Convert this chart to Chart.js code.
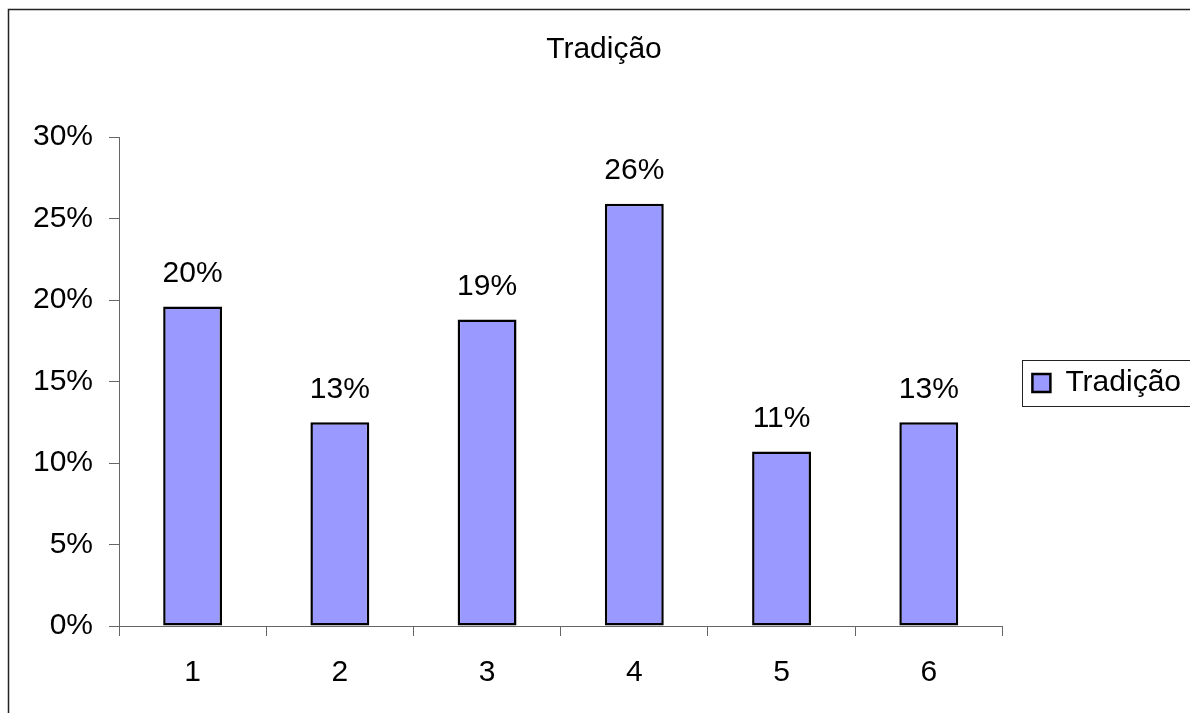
<!DOCTYPE html>
<html lang="pt">
<head>
    <meta charset="UTF-8">
    <title>Tradição</title>
    <script src="https://cdn.jsdelivr.net/npm/chart.js"></script>
    <style>
        html, body {
            margin: 0;
            padding: 0;
            overflow: hidden;
            background: white;
        }
        #wrap {
            position: absolute;
            left: 0;
            top: 0;
            width: 1208px;
            height: 766px;
        }
    </style>
</head>
<body>
    <div id="wrap"><canvas id="chart"></canvas></div>

    <script>
        const categories = ["1", "2", "3", "4", "5", "6"];
        const tradicao = [0.196, 0.125, 0.188, 0.259, 0.107, 0.125];
        const yTicks = [0, 0.05, 0.10, 0.15, 0.20, 0.25, 0.30];

        const FONT = "'Liberation Sans', Arial, sans-serif";
        const SIZE = 30;
        const pct = v => Math.round(v * 100) + "%";

        // outer frame, legend frame and the value labels above the bars
        const extras = {
            id: "extras",
            beforeDraw(chart) {
                const c = chart.ctx;
                c.save();
                c.strokeStyle = "#222";
                c.lineWidth = 1.5;
                c.strokeRect(8.5, 9.5, 1300, 900);
                c.restore();
            },
            afterDraw(chart) {
                const c = chart.ctx;
                c.save();
                const hb = chart.legend.legendHitBoxes[0];
                if (hb) {
                    const cy = hb.top + hb.height / 2;
                    c.strokeStyle = "#222";
                    c.lineWidth = 1;
                    c.strokeRect(Math.round(hb.left - 10) + 0.5, Math.round(cy - 23) + 0.5, 300, 46);
                }

                c.fillStyle = "#000";
                c.font = SIZE + "px " + FONT;
                c.textAlign = "center";
                c.textBaseline = "middle";
                chart.getDatasetMeta(0).data.forEach((bar, i) => {
                    c.fillText(pct(tradicao[i]), bar.x, bar.y - 33);
                });
                c.restore();
            }
        };

        new Chart(document.getElementById("chart"), {
            type: "bar",
            data: {
                labels: categories,
                datasets: [{
                    label: "Tradição",
                    data: tradicao,
                    backgroundColor: "#9999ff",
                    borderColor: "#000",
                    borderWidth: 2.5,
                    borderSkipped: false,
                    categoryPercentage: 1,
                    barPercentage: 0.4
                }]
            },
            options: {
                responsive: true,
                maintainAspectRatio: false,
                animation: false,
                layout: { padding: { left: 17, right: 17, top: 0, bottom: 0 } },
                plugins: {
                    title: {
                        display: true,
                        text: "Tradição",
                        color: "#000",
                        font: { family: FONT, size: SIZE, weight: "normal" },
                        padding: { top: 32, bottom: 69 }
                    },
                    legend: {
                        position: "right",
                        labels: {
                            color: "#000",
                            font: { family: FONT, size: SIZE },
                            boxWidth: 18,
                            boxHeight: 18,
                            padding: 30,
                            useBorderRadius: false
                        }
                    },
                    tooltip: { enabled: false }
                },
                scales: {
                    x: {
                        grid: {
                            offset: true,
                            drawOnChartArea: false,
                            drawTicks: true,
                            tickLength: 10,
                            color: "#666"
                        },
                        border: { color: "#666", width: 1 },
                        ticks: {
                            color: "#000",
                            font: { family: FONT, size: SIZE },
                            padding: 19
                        },
                        afterFit(scale) { scale.height = 140; }
                    },
                    y: {
                        min: 0,
                        max: 0.3,
                        afterBuildTicks(scale) {
                            scale.ticks = yTicks.map(v => ({ value: v }));
                        },
                        grid: {
                            drawOnChartArea: false,
                            drawTicks: true,
                            tickLength: 10,
                            color: "#666"
                        },
                        border: { color: "#666", width: 1 },
                        ticks: {
                            color: "#000",
                            font: { family: FONT, size: SIZE },
                            padding: 16,
                            callback: v => pct(v)
                        },
                        afterFit(scale) { scale.width = 102; }
                    }
                }
            },
            plugins: [extras]
        });
    </script>
</body>
</html>
